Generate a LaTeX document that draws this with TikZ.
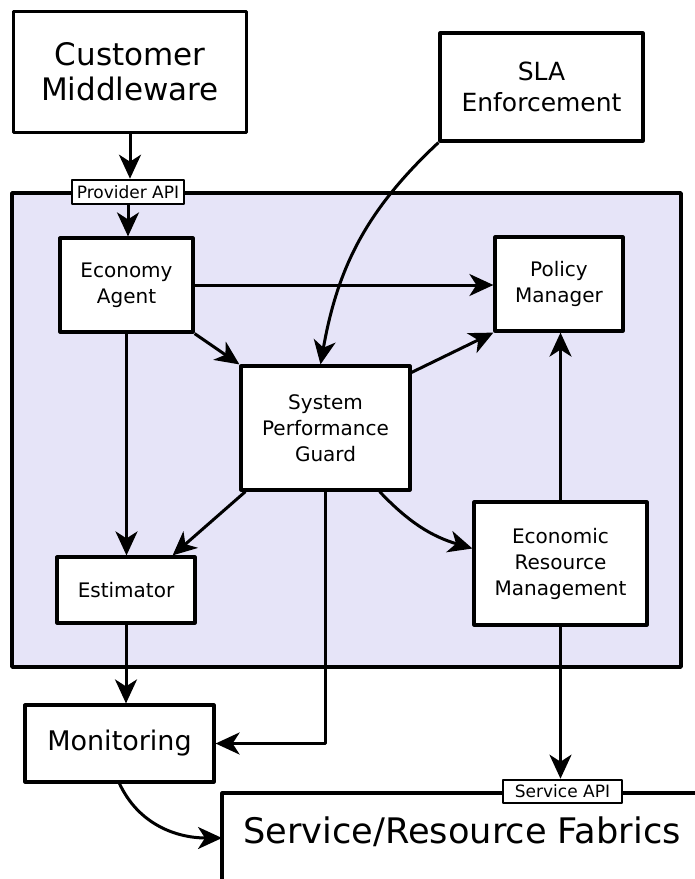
\documentclass[tikz,border=0pt]{standalone}
\usepackage{fontspec}
\setmainfont{DejaVu Sans}
\usetikzlibrary{arrows.meta,positioning}
\definecolor{FrameLilac}{HTML}{E6E4F8}

\begin{document}
\begin{tikzpicture}[x=0.5pt,y=-0.5pt,line join=round,
  box/.style={draw,line width=1.6pt,fill=white,align=center,inner sep=0pt},
  inbox/.style={box,font=\fontsize{10}{13}\selectfont},
  apibox/.style={draw,line width=1.3pt,fill=white,inner sep=0pt,font=\fontsize{8.5}{10}\selectfont},
  flow/.style={line width=1.5pt,-{Stealth[length=12pt,width=11pt,inset=3.5pt]}}]
  \clip (0,0) rectangle (695,879);
  \draw[line width=1.8pt,fill=FrameLilac] (12,193) rectangle (681,667);
  % boxes
  \node[box,minimum width=116.5pt,minimum height=60.5pt,font=\fontsize{15.5}{17.5}\selectfont] (cust) at (130,72) {Customer\\Middleware};
  \node[box,minimum width=101.5pt,minimum height=54pt,font=\fontsize{12.5}{15.5}\selectfont] (sla) at (541.5,87) {SLA\\Enforcement};
  \node[apibox,minimum width=56pt,minimum height=12pt] (papi) at (128,192) {Provider API};
  \node[inbox,minimum width=66.5pt,minimum height=47pt] (agent) at (126.5,285) {Economy\\Agent};
  \node[inbox,minimum width=64pt,minimum height=47pt] (policy) at (559,284) {Policy\\Manager};
  \node[inbox,minimum width=84.5pt,minimum height=62pt] (guard) at (325.5,428) {System\\Performance\\Guard};
  \node[inbox,minimum width=69pt,minimum height=33pt] (est) at (126,590) {Estimator};
  \node[inbox,minimum width=86.5pt,minimum height=61.5pt] (erm) at (560.5,563.5) {Economic\\Resource\\Management};
  \node[box,minimum width=94.5pt,minimum height=38.5pt,font=\fontsize{13.5}{16}\selectfont] (mon) at (119.5,743.5) {Monitoring};
  \draw[line width=1.6pt,fill=white] (222,900) |- (720,793);
  \node[font=\fontsize{17.6}{20}\selectfont] (fab) at (462,832) {Service/Resource Fabrics};
  \coordinate (fabin) at (222,838);
  \node[apibox,minimum width=59.5pt,minimum height=11.5pt] (sapi) at (562.5,791.5) {Service API};
  % connectors
  \draw[flow] (cust.south) -- (cust.south |- papi.north);
  \draw[flow] (papi.south) -- (papi.south |- agent.north);
  \draw[flow] (agent.east) -- (agent.east -| policy.west);
  \draw[flow] (agent.south east) -- (guard.north west);
  \draw[flow] (sla.south west) to[out=223,in=80] ([xshift=-2.5pt]guard.north);
  \draw[flow] ([yshift=-4pt]guard.north east) -- (policy.south west);
  \draw[flow] ([xshift=3pt]guard.south west) -- ([xshift=-12pt]est.north east);
  \draw[flow] (agent.south) -- (agent.south |- est.north);
  \draw[flow] ([xshift=-16pt]guard.south east) to[bend right=15] ([yshift=7.5pt]erm.west);
  \draw[flow] (erm.north) -- (erm.north |- policy.south);
  \draw[flow] (est.south) -- (est.south |- mon.north);
  \draw[flow] (guard.south) |- (mon.east);
  \draw[flow] (erm.south) -- (erm.south |- sapi.north);
  \draw[flow] (mon.south) to[out=-65,in=180] (fabin);
\end{tikzpicture}
\end{document}
